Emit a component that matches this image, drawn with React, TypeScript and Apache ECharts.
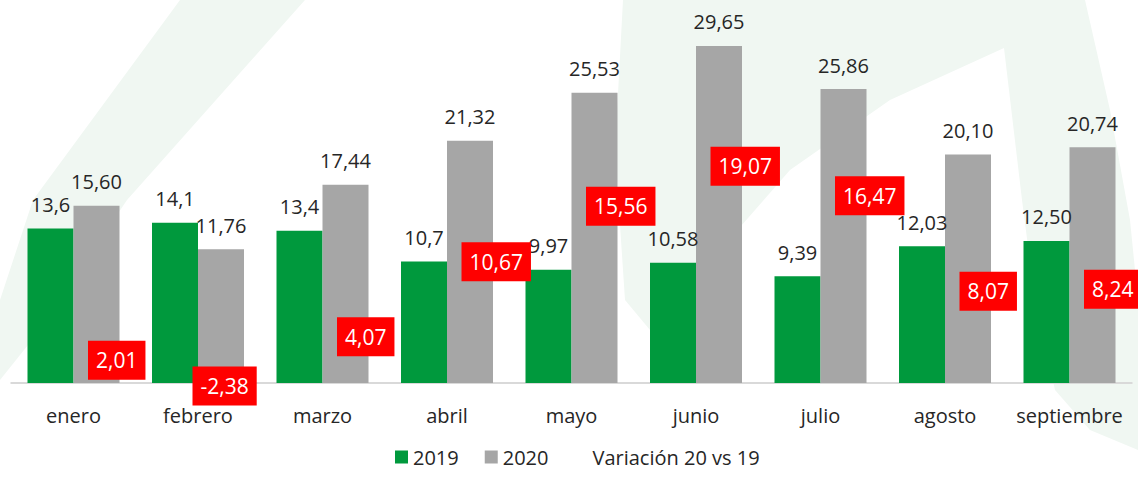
import React, { useEffect, useRef } from "react";
import * as echarts from "echarts";

const months = ["enero", "febrero", "marzo", "abril", "mayo", "junio", "julio", "agosto", "septiembre"];
const values2019 = [13.6, 14.1, 13.4, 10.7, 9.97, 10.58, 9.39, 12.03, 12.5];
const labels2019 = ["13,6", "14,1", "13,4", "10,7", "9,97", "10,58", "9,39", "12,03", "12,50"];
const values2020 = [15.6, 11.76, 17.44, 21.32, 25.53, 29.65, 25.86, 20.1, 20.74];
const labels2020 = ["15,60", "11,76", "17,44", "21,32", "25,53", "29,65", "25,86", "20,10", "20,74"];
const variation = [2.01, -2.38, 4.07, 10.67, 15.56, 19.07, 16.47, 8.07, 8.24];
const variationLabels = ["2,01", "-2,38", "4,07", "10,67", "15,56", "19,07", "16,47", "8,07", "8,24"];

const FONT = "Open Sans";
const TEXT = "#262626";
const WM = "#f0f7f2";

export default function App() {
  const ref = useRef<HTMLDivElement>(null);
  useEffect(() => {
    const chart = echarts.init(ref.current!, undefined, { renderer: "svg" });
    chart.setOption({
      animation: false,
      backgroundColor: "#ffffff",
      textStyle: { fontFamily: FONT },
      graphic: [
        {
          type: "polygon",
          silent: true,
          z: -10,
          shape: {
            points: [
              [180, 0], [305, 0], [127, 200], [40, 330], [0, 380], [0, 300], [33, 200],
            ],
          },
          style: { fill: WM },
        },
        {
          type: "polygon",
          silent: true,
          z: -10,
          shape: {
            points: [
              [623, 0], [1085, 0], [1110, 110], [1130, 220], [1138, 300], [1138, 450], [1090, 430],
              [1055, 390], [1035, 300], [1022, 200], [1004, 48], [890, 100], [790, 170],
              [720, 250], [690, 330], [650, 330], [625, 300], [615, 150],
            ],
          },
          style: { fill: WM },
        },
      ],
      grid: { left: 11.25, width: 1120.5, top: 42, height: 341 },
      legend: {
        left: 390,
        top: 442,
        itemWidth: 13,
        itemHeight: 13,
        itemGap: 26,
        textStyle: { fontFamily: FONT, fontSize: 20, color: TEXT, lineHeight: 20 },
        data: [
          { name: "2019", icon: "rect" },
          { name: "2020", icon: "rect" },
          { name: "Variación 20 vs 19", icon: "rect", itemStyle: { color: "rgba(0,0,0,0)" } },
        ],
      },
      xAxis: {
        type: "category",
        data: months,
        axisTick: { show: false },
        axisLine: { lineStyle: { color: "#d9d9d9", width: 2 } },
        axisLabel: { interval: 0, fontFamily: FONT, fontSize: 20, color: TEXT, margin: 22 },
      },
      yAxis: {
        type: "value",
        min: 0,
        max: 30,
        show: false,
        splitLine: { show: false },
      },
      series: [
        {
          name: "2019",
          type: "bar",
          data: values2019,
          barWidth: 46,
          barGap: "0%",
          itemStyle: { color: "#00993d" },
          label: {
            show: true,
            position: "top",
            distance: 14,
            fontFamily: FONT,
            fontSize: 20,
            color: TEXT,
            formatter: (p: any) => labels2019[p.dataIndex],
          },
        },
        {
          name: "2020",
          type: "bar",
          data: values2020,
          barWidth: 46,
          barGap: "0%",
          itemStyle: { color: "#a6a6a6" },
          label: {
            show: true,
            position: "top",
            distance: 14,
            fontFamily: FONT,
            fontSize: 20,
            color: TEXT,
            formatter: (p: any) => labels2020[p.dataIndex],
          },
        },
        {
          name: "Variación 20 vs 19",
          type: "scatter",
          clip: false,
          z: 5,
          symbol: "circle",
          symbolSize: 1,
          itemStyle: { color: "rgba(0,0,0,0)", opacity: 1 },
          data: variation.map((v, i) =>
            i === 1 ? { value: v, label: { offset: [-20, -24] } } : v
          ),
          label: {
            show: true,
            position: "right",
            distance: 14,
            fontFamily: FONT,
            fontSize: 21,
            lineHeight: 23,
            color: "#ffffff",
            opacity: 1,
            backgroundColor: "#ff0000",
            padding: [8, 8],
            formatter: (p: any) => variationLabels[p.dataIndex],
          },
        },
      ],
    });
    return () => chart.dispose();
  }, []);
  return (
    <div
      ref={ref}
      style={{ position: "fixed", left: 0, top: 0, width: 1138, height: 488, background: "#fff" }}
    />
  );
}
